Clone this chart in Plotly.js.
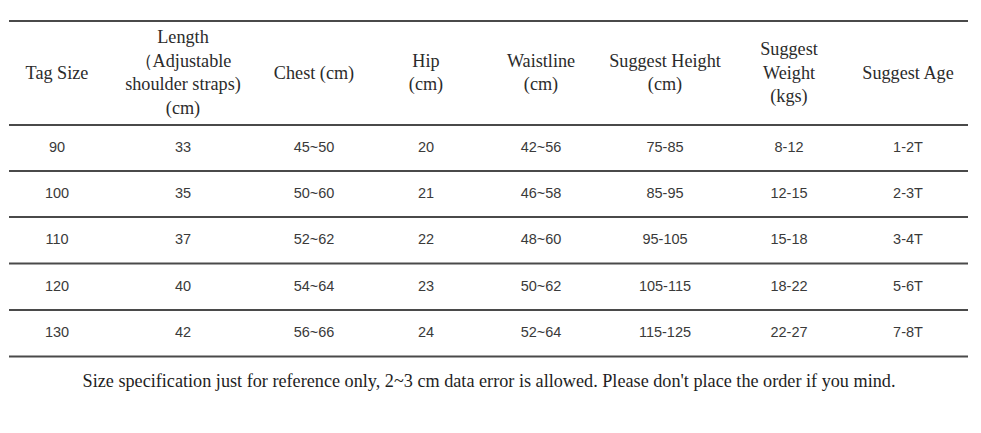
<!DOCTYPE html>
<html>
<head>
<meta charset="utf-8">
<script src="https://cdn.plot.ly/plotly-3.0.1.min.js"></script>
<style>html,body{margin:0;padding:0;background:#fff;}#chart{width:981px;height:433px;}</style>
</head>
<body>
<div id="chart"></div>
<script>
// ---- data ----
const headers = [
  "Tag Size",
  "Length<br>（Adjustable<br>shoulder straps)<br>(cm)",
  "Chest (cm)",
  "Hip<br>(cm)",
  "Waistline<br>(cm)",
  "Suggest Height<br>(cm)",
  "Suggest<br>Weight<br>(kgs)",
  "Suggest Age"
];
const tagSize = ["90", "100", "110", "120", "130"];
const lengthCm = ["33", "35", "37", "40", "42"];
const chestCm = ["45~50", "50~60", "52~62", "54~64", "56~66"];
const hipCm = ["20", "21", "22", "23", "24"];
const waistCm = ["42~56", "46~58", "48~60", "50~62", "52~64"];
const heightCm = ["75-85", "85-95", "95-105", "105-115", "115-125"];
const weightKg = ["8-12", "12-15", "15-18", "18-22", "22-27"];
const ageRange = ["1-2T", "2-3T", "3-4T", "5-6T", "7-8T"];
const footnote = "Size specification just for reference only, 2~3 cm data error is allowed. Please don't place the order if you mind.";

// ---- layout constants ----
const colX = [57, 183, 314, 426, 541, 665, 789, 908];
const headerY = 74;
const rowY = [148.5, 194.5, 240.5, 287, 333.5];
const lineY = [21, 125, 171, 217, 263.5, 310, 356.5];
const lineX0 = 9, lineX1 = 968;
const footX = 489, footY = 382;

const columns = [tagSize, lengthCm, chestCm, hipCm, waistCm, heightCm, weightKg, ageRange];

const traces = [];
traces.push({
  type: "scatter", mode: "text",
  x: colX, y: colX.map(() => headerY),
  text: headers, textposition: "middle center",
  textfont: {family: "Liberation Serif, serif", size: 18.2, color: "#2b2b2b"},
  hoverinfo: "skip", showlegend: false
});
columns.forEach((col, i) => {
  traces.push({
    type: "scatter", mode: "text",
    x: col.map(() => colX[i]), y: rowY,
    text: col, textposition: "middle center",
    textfont: {family: "Liberation Sans, sans-serif", size: 14.5, color: "#3a3a3a"},
    hoverinfo: "skip", showlegend: false
  });
});
traces.push({
  type: "scatter", mode: "text",
  x: [footX], y: [footY], text: [footnote], textposition: "middle center",
  textfont: {family: "Liberation Serif, serif", size: 18.2, color: "#1e1e1e"},
  hoverinfo: "skip", showlegend: false
});

const shapes = lineY.map(y => ({
  type: "line", xref: "x", yref: "y",
  x0: lineX0, x1: lineX1, y0: y, y1: y,
  line: {color: "#4a4a4a", width: 2}
}));

const layout = {
  width: 981, height: 433,
  margin: {l: 0, r: 0, t: 0, b: 0},
  paper_bgcolor: "#ffffff", plot_bgcolor: "#ffffff",
  xaxis: {range: [0, 981], visible: false, fixedrange: true},
  yaxis: {range: [433, 0], visible: false, fixedrange: true},
  shapes: shapes,
  showlegend: false
};

Plotly.newPlot("chart", traces, layout, {displayModeBar: false, staticPlot: true});
</script>
</body>
</html>
